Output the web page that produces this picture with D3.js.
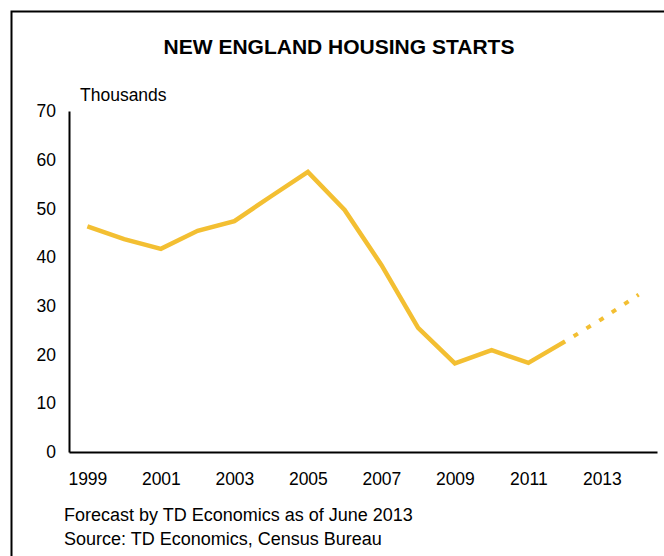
<!DOCTYPE html>
<html>
<head>
<meta charset="utf-8">
<script src="https://cdn.jsdelivr.net/npm/d3@7"></script>
<style>
  html, body { margin: 0; padding: 0; background: #fff; }
  svg { display: block; font-family: "Liberation Sans", Arial, sans-serif; }
</style>
</head>
<body>
<svg id="chart" width="664" height="556"></svg>
<script>
// Housing starts, thousands of units
const years = [1999, 2000, 2001, 2002, 2003, 2004, 2005, 2006, 2007, 2008, 2009, 2010, 2011, 2012, 2013, 2014];
const actualYears = [1999, 2000, 2001, 2002, 2003, 2004, 2005, 2006, 2007, 2008, 2009, 2010, 2011, 2012];
const actualValues = [46.3, 43.7, 41.7, 45.4, 47.4, 52.5, 57.5, 49.7, 38.4, 25.5, 18.2, 20.9, 18.3, 22.7];
const forecastYears = [2012, 2013, 2014];
const forecastValues = [22.7, 27.3, 32.3];
const xTickLabels = [1999, 2001, 2003, 2005, 2007, 2009, 2011, 2013];
const yTickLabels = [0, 10, 20, 30, 40, 50, 60, 70];

const svg = d3.select("#chart");
const lineColor = "#f3bf32";

// Frame: top and left rules
svg.append("path")
  .attr("d", "M11.5,556 V11.5 H664")
  .attr("fill", "none")
  .attr("stroke", "#000")
  .attr("stroke-width", 2);

svg.append("text")
  .attr("x", 339).attr("y", 54)
  .attr("text-anchor", "middle")
  .attr("font-size", 21).attr("font-weight", "bold")
  .text("NEW ENGLAND HOUSING STARTS");

const x = d3.scalePoint().domain(years).range([69, 657]).padding(0.5);
const y = d3.scaleLinear().domain([0, 70]).range([452, 111]);

const yAxis = svg.append("g")
  .attr("transform", "translate(69,0)")
  .call(d3.axisLeft(y).tickValues(yTickLabels).tickSize(0).tickPadding(13));
const xAxis = svg.append("g")
  .attr("transform", "translate(0,452)")
  .call(d3.axisBottom(x).tickValues(xTickLabels).tickSize(0).tickPadding(21));

[yAxis, xAxis].forEach(g => {
  g.select(".domain").attr("stroke", "#000").attr("stroke-width", 2);
  g.selectAll("text").attr("font-size", 17.5).attr("fill", "#000")
    .attr("font-family", "Liberation Sans, Arial, sans-serif");
});

svg.append("text")
  .attr("x", 80).attr("y", 101)
  .attr("font-size", 17.5)
  .text("Thousands");

const line = d3.line().x(d => x(d[0])).y(d => y(d[1]));

svg.append("path")
  .datum(actualYears.map((yr, i) => [yr, actualValues[i]]))
  .attr("d", line)
  .attr("fill", "none")
  .attr("stroke", lineColor)
  .attr("stroke-width", 4.5)
  .attr("stroke-linejoin", "miter");

svg.append("path")
  .datum(forecastYears.map((yr, i) => [yr, forecastValues[i]]))
  .attr("d", line)
  .attr("fill", "none")
  .attr("stroke", lineColor)
  .attr("stroke-width", 4)
  .attr("stroke-dasharray", "5,10")
  .attr("stroke-dashoffset", 5);

svg.append("text")
  .attr("x", 64).attr("y", 521)
  .attr("font-size", 18)
  .text("Forecast by TD Economics as of June 2013");
svg.append("text")
  .attr("x", 64).attr("y", 545)
  .attr("font-size", 18)
  .text("Source: TD Economics, Census Bureau");
</script>
</body>
</html>
